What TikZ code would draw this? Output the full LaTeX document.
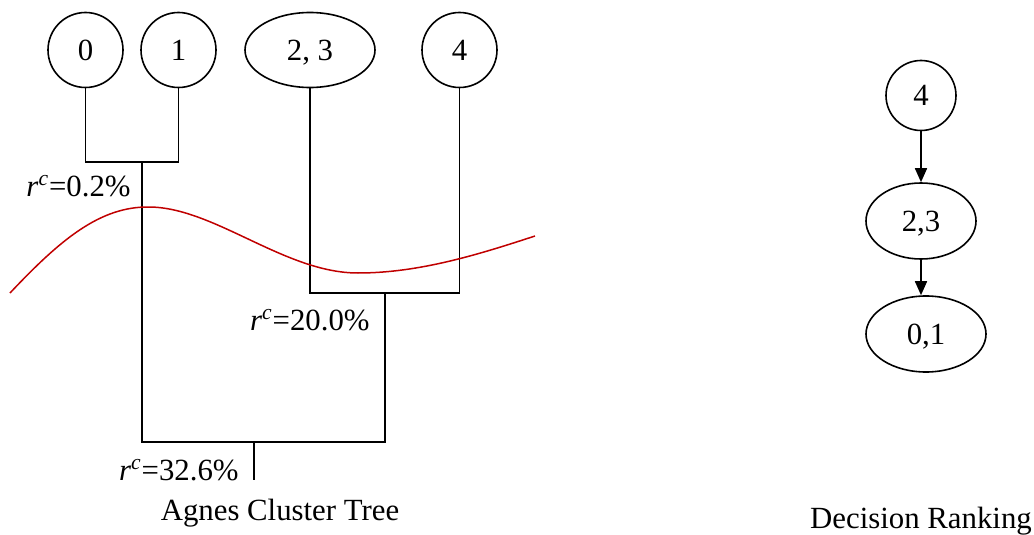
\documentclass[tikz,border=0pt]{standalone}
\usepackage{fontspec}
\setmainfont{Liberation Serif}
\usepackage{tikz}
\usetikzlibrary{arrows.meta,positioning,shapes.geometric,calc}
\definecolor{cutred}{RGB}{192,0,0}

\begin{document}
\begin{tikzpicture}[
    x=0.5pt, y=-0.5pt,
    font=\fontsize{15.4}{18}\selectfont,
    leaf/.style={draw, circle, line width=0.8pt, minimum size=37.5pt, inner sep=0pt},
    pair/.style={draw, ellipse, line width=0.8pt, minimum height=37.5pt, inner sep=0pt, text depth=0pt},
    link/.style={line width=0.85pt},
    flow/.style={line width=0.85pt, -{Triangle[length=7pt, width=6pt]}},
    cut/.style={cutred, line width=0.75pt},
    tag/.style={anchor=east, inner sep=0pt}
]
\useasboundingbox (0,0) rectangle (1034,535);
% cluster tree
\foreach \x/\name/\t in {85.5/n0/0, 178.5/n1/1, 459.5/n4/4} {
    \node[leaf] (\name) at (\x,50) {\t};
}
\node[pair, minimum width=65pt] (n23) at (310,50) {2, 3};
\coordinate (m01) at (141.7,162);
\coordinate (m234) at (385,293);
\coordinate (root) at (254,442);
\coordinate (rootend) at (254,480);
\draw[link] (n0.south) |- (m01) -| (n1.south);
\draw[link] (n23.south) |- (m234) -| (n4.south);
\draw[link] (m01) |- (root) -| (m234);
\draw[link] (root) -- (rootend);
\node[tag] (r01) at (131,186) {\textit{r}\textsuperscript{\textit{c}}=0.2\%};
\node[tag] (r234) at (370,320) {\textit{r}\textsuperscript{\textit{c}}=20.0\%};
\node[tag] (rall) at (239,470) {\textit{r}\textsuperscript{\textit{c}}=32.6\%};
\draw[cut] (10,293) .. controls (60,240) and (100,206) .. (150,207)
    .. controls (215,208) and (285,273) .. (358,273)
    .. controls (420,273) and (480,254) .. (535,236);
\node (agnes) at (280,513) {Agnes Cluster Tree};
% decision ranking
\node[leaf, minimum size=35pt] (d4) at (921,95.5) {4};
\node[pair, minimum width=55pt, minimum height=38pt] (d23) at (921,221) {2,3};
\node[pair, minimum width=60pt, minimum height=38pt] (d01) at (926,334) {0,1};
\draw[flow] (d4.south) -- (d4.south |- d23.north);
\draw[flow] (d23.south) -- (d23.south |- d01.north);
\node (rank) at (921,521) {Decision Ranking};
\end{tikzpicture}
\end{document}
